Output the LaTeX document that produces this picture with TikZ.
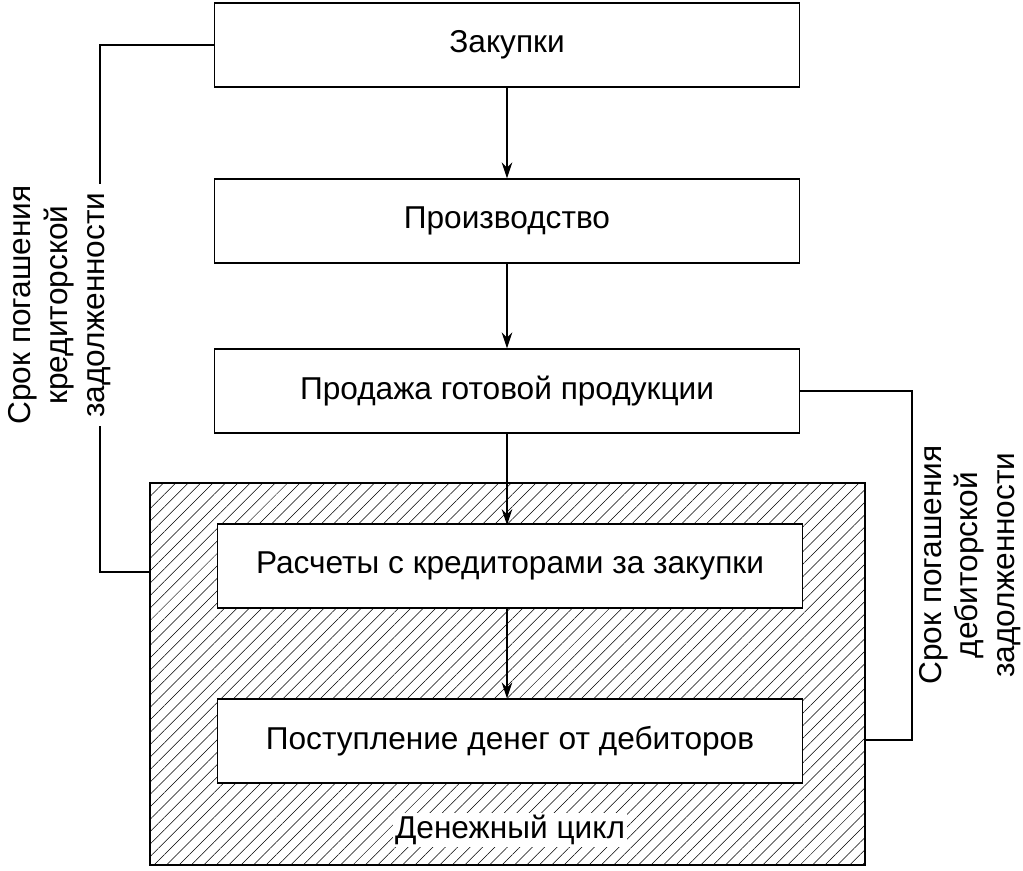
\documentclass[tikz,border=0pt]{standalone}
\usepackage{fontspec}
\setmainfont{Liberation Sans}
\usetikzlibrary{arrows.meta, patterns.meta}

\begin{document}
\begin{tikzpicture}[x=0.02cm, y=-0.02cm,
    box/.style={draw=black, thick, fill=white, minimum width=11.7cm,
                minimum height=1.68cm, font=\fontsize{18}{21}\selectfont},
    side/.style={rotate=90, fill=white, align=center, inner sep=1pt,
                 font=\fontsize{18}{21}\selectfont}]
    \useasboundingbox (0,0) rectangle (1023,870);
    % money cycle area
    \draw[thick, pattern={Lines[angle=45, distance=5pt, line width=0.3pt]}]
        (150,483) rectangle (865,865);
    \node[font=\fontsize{18}{21}\selectfont, fill=white, inner sep=1pt] (cycle) at (510,830) {Денежный цикл};

    \begin{scope}
        \node[box] (buy) at (507,45) {Закупки};
        \node[box] (prod) at (507,221) {Производство};
        \node[box] (sell) at (507,391) {Продажа готовой продукции};
        \node[box] (pay) at (510,566) {Расчеты с кредиторами за закупки};
        \node[box] (get) at (510,741) {Поступление денег от дебиторов};
    \end{scope}

    \begin{scope}[>={Stealth[length=9pt, width=6pt]}, every path/.style={thick}]
        \draw[->] (buy) -- (prod);
        \draw[->] (prod) -- (sell);
        \draw[->] (sell.south -| 507,0) -- (507,525);
        \draw[->] (pay.south -| 507,0) -- (get.north -| 507,0);
    \end{scope}

    % payment periods
    \coordinate (lcorner) at (100,572);
    \coordinate (rcorner) at (912,740);
    \draw[thick] (buy.west) -| (lcorner) -- (150,572);
    \draw[thick] (sell.east) -| (rcorner) -- (865,740);
    \node[side] (credit) at (60,305) {Срок погашения\\кредиторской\\задолженности};
    \node[side] (debit) at (970,565) {Срок погашения\\дебиторской\\задолженности};
\end{tikzpicture}
\end{document}
